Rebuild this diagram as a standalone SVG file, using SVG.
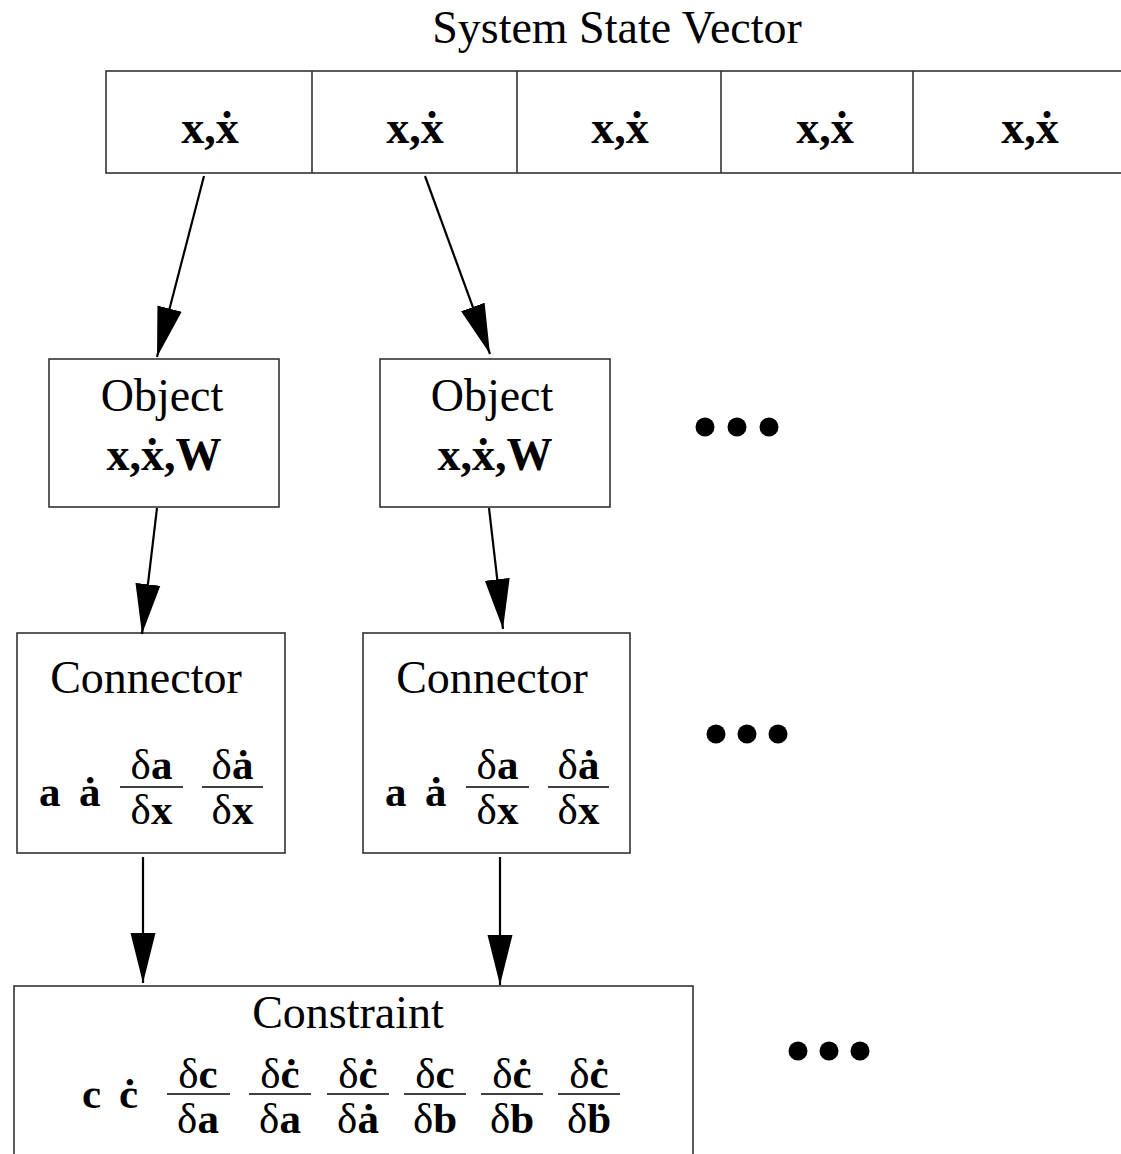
<svg xmlns="http://www.w3.org/2000/svg" width="1121" height="1154" viewBox="0 0 1121 1154">
<style>
.box{fill:#fff;stroke:#333;stroke-width:1.6}
.t{font-family:"Liberation Serif","Times New Roman",serif;fill:#000}
.lbl{font-size:46px}
.m{font-weight:bold;font-size:46px}
.f{font-size:43px}
.b{font-weight:bold}
.fl{stroke:#000;stroke-width:1.6}
.div{stroke:#333;stroke-width:1.6}
.con{stroke:#000;stroke-width:2.2;fill:none;marker-end:url(#ah)}
</style>
<defs>
<marker id="ah" markerUnits="userSpaceOnUse" markerWidth="50" markerHeight="26" viewBox="0 0 48 24" refX="48" refY="12" orient="auto">
<path d="M0,0 L48,12 L0,24 Z" fill="#000"/>
</marker>
</defs>
<rect width="1121" height="1154" fill="#fff"/>
<g id="title"><text class="t lbl" x="617" y="43" text-anchor="middle">System State Vector</text></g>
<g id="state-vector">
<rect class="box" x="106" y="71" width="1030" height="102"/>
<line class="div" x1="312" y1="71" x2="312" y2="173"/>
<line class="div" x1="517" y1="71" x2="517" y2="173"/>
<line class="div" x1="721" y1="71" x2="721" y2="173"/>
<line class="div" x1="913" y1="71" x2="913" y2="173"/>
<text class="t m" x="210" y="143" text-anchor="middle">x,ẋ</text>
<text class="t m" x="415" y="143" text-anchor="middle">x,ẋ</text>
<text class="t m" x="620" y="143" text-anchor="middle">x,ẋ</text>
<text class="t m" x="825" y="143" text-anchor="middle">x,ẋ</text>
<text class="t m" x="1030" y="143" text-anchor="middle">x,ẋ</text>
</g>
<g id="object1">
<rect class="box" x="49" y="359" width="230" height="148"/>
<text class="t lbl" x="162" y="411" text-anchor="middle">Object</text>
<text class="t m" x="164" y="470" text-anchor="middle">x,ẋ,W</text>
</g>
<g id="object2">
<rect class="box" x="380" y="359" width="230" height="148"/>
<text class="t lbl" x="492" y="411" text-anchor="middle">Object</text>
<text class="t m" x="495" y="470" text-anchor="middle">x,ẋ,W</text>
</g>
<g id="connector1">
<rect class="box" x="17" y="633" width="268" height="220"/>
<text class="t lbl" x="146" y="693" text-anchor="middle">Connector</text>
<text class="t f b" x="39" y="806">a</text>
<text class="t f b" x="79" y="806">ȧ</text>
<line class="fl" x1="120" y1="787" x2="183" y2="787"/>
<text class="t f" x="151.5" y="779" text-anchor="middle">δ<tspan class="b">a</tspan></text>
<text class="t f" x="151.5" y="824" text-anchor="middle">δ<tspan class="b">x</tspan></text>
<line class="fl" x1="202" y1="787" x2="263" y2="787"/>
<text class="t f" x="232.5" y="779" text-anchor="middle">δ<tspan class="b">ȧ</tspan></text>
<text class="t f" x="232.5" y="824" text-anchor="middle">δ<tspan class="b">x</tspan></text>
</g>
<g id="connector2">
<rect class="box" x="363" y="633" width="267" height="220"/>
<text class="t lbl" x="492" y="693" text-anchor="middle">Connector</text>
<text class="t f b" x="385" y="806">a</text>
<text class="t f b" x="425" y="806">ȧ</text>
<line class="fl" x1="466" y1="787" x2="529" y2="787"/>
<text class="t f" x="497.5" y="779" text-anchor="middle">δ<tspan class="b">a</tspan></text>
<text class="t f" x="497.5" y="824" text-anchor="middle">δ<tspan class="b">x</tspan></text>
<line class="fl" x1="548" y1="787" x2="609" y2="787"/>
<text class="t f" x="578.5" y="779" text-anchor="middle">δ<tspan class="b">ȧ</tspan></text>
<text class="t f" x="578.5" y="824" text-anchor="middle">δ<tspan class="b">x</tspan></text>
</g>
<g id="constraint">
<rect class="box" x="14" y="986" width="679" height="190"/>
<text class="t lbl" x="348" y="1028" text-anchor="middle">Constraint</text>
<text class="t f b" x="82" y="1108">c</text>
<text class="t f b" x="119" y="1108">ċ</text>
<line class="fl" x1="167" y1="1094" x2="230" y2="1094"/>
<text class="t f" x="198" y="1088" text-anchor="middle">δ<tspan class="b">c</tspan></text>
<text class="t f" x="198" y="1133" text-anchor="middle">δ<tspan class="b">a</tspan></text>
<line class="fl" x1="249" y1="1094" x2="311" y2="1094"/>
<text class="t f" x="280" y="1088" text-anchor="middle">δ<tspan class="b">ċ</tspan></text>
<text class="t f" x="280" y="1133" text-anchor="middle">δ<tspan class="b">a</tspan></text>
<line class="fl" x1="327" y1="1094" x2="389" y2="1094"/>
<text class="t f" x="358" y="1088" text-anchor="middle">δ<tspan class="b">ċ</tspan></text>
<text class="t f" x="358" y="1133" text-anchor="middle">δ<tspan class="b">ȧ</tspan></text>
<line class="fl" x1="404" y1="1094" x2="466" y2="1094"/>
<text class="t f" x="435" y="1088" text-anchor="middle">δ<tspan class="b">c</tspan></text>
<text class="t f" x="435" y="1133" text-anchor="middle">δ<tspan class="b">b</tspan></text>
<line class="fl" x1="481" y1="1094" x2="543" y2="1094"/>
<text class="t f" x="512" y="1088" text-anchor="middle">δ<tspan class="b">ċ</tspan></text>
<text class="t f" x="512" y="1133" text-anchor="middle">δ<tspan class="b">b</tspan></text>
<line class="fl" x1="558" y1="1094" x2="620" y2="1094"/>
<text class="t f" x="589" y="1088" text-anchor="middle">δ<tspan class="b">ċ</tspan></text>
<text class="t f" x="589" y="1133" text-anchor="middle">δ<tspan class="b">ḃ</tspan></text>
</g>
<g id="ellipses" fill="#000">
<circle cx="705" cy="427" r="9.5"/><circle cx="737" cy="427" r="9.5"/><circle cx="769" cy="427" r="9.5"/>
<circle cx="716" cy="734" r="9.5"/><circle cx="747" cy="734" r="9.5"/><circle cx="778" cy="734" r="9.5"/>
<circle cx="798" cy="1051" r="9.5"/><circle cx="829" cy="1051" r="9.5"/><circle cx="860" cy="1051" r="9.5"/>
</g>
<g id="connectors">
<line class="con" x1="204" y1="176" x2="157" y2="357"/>
<line class="con" x1="425" y1="176" x2="490" y2="354"/>
<line class="con" x1="157" y1="508" x2="142" y2="634"/>
<line class="con" x1="489" y1="508" x2="503" y2="629"/>
<line class="con" x1="143" y1="857" x2="143" y2="983"/>
<line class="con" x1="500" y1="857" x2="500" y2="985"/>
</g>
</svg>
